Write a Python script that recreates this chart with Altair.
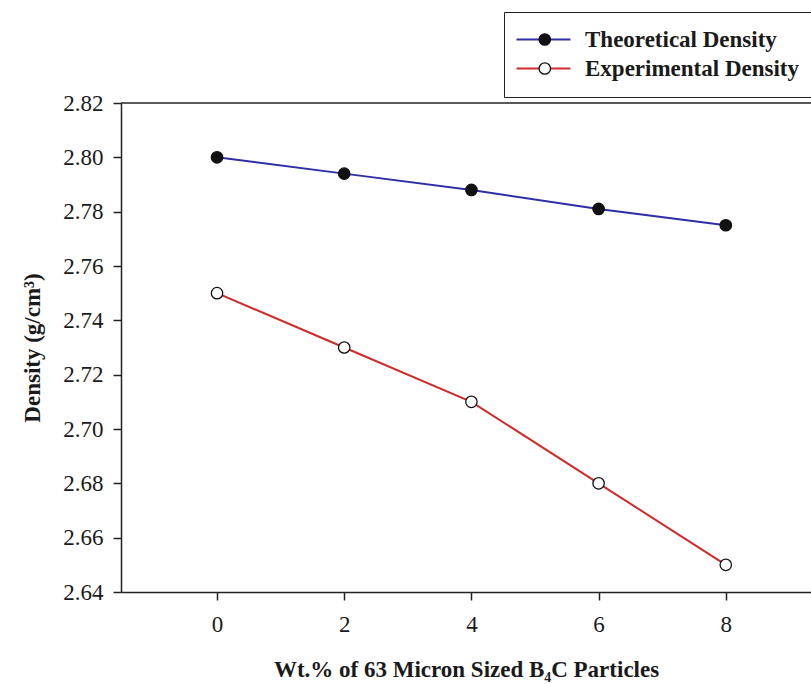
import altair as alt
import pandas as pd

wt = [0, 2, 4, 6, 8]
theoretical = [2.800, 2.794, 2.788, 2.781, 2.775]
experimental = [2.750, 2.730, 2.710, 2.680, 2.650]
series_names = ["Theoretical Density", "Experimental Density"]
y_ticks = [2.64, 2.66, 2.68, 2.70, 2.72, 2.74, 2.76, 2.78, 2.80, 2.82]
x_ticks = [0, 2, 4, 6, 8]

rows = []
for x, v in zip(wt, theoretical):
    rows.append({"wt": x, "density": v, "series": series_names[0]})
for x, v in zip(wt, experimental):
    rows.append({"wt": x, "density": v, "series": series_names[1]})
df = pd.DataFrame(rows)
df["marker"] = df["series"]

FONT = "Liberation Serif"
W, H = 690, 489
LFS = 23  # legend label font size

xs = alt.Scale(domain=[-1.51, 9.34], nice=False, zero=False)
ys = alt.Scale(domain=[2.64, 2.82], nice=False, zero=False)

x_enc = alt.X("wt:Q", scale=xs,
              axis=alt.Axis(values=x_ticks, format="d",
                            title="Wt.% of 63 Micron Sized B\u2084C Particles"))
y_enc = alt.Y("density:Q", scale=ys,
              axis=alt.Axis(values=y_ticks, format=".2f",
                            title="Density (g/cm\u00b3)"))

base = alt.Chart(df)

lines = base.mark_line(strokeWidth=2).encode(
    x=x_enc, y=y_enc,
    stroke=alt.Stroke("series:N",
                      scale=alt.Scale(domain=series_names, range=["#2e2ea6", "#d02a2a"]),
                      legend=alt.Legend(orient="none", legendX=383, legendY=-91,
                                        title=None, symbolType="M-3,0H7.8",
                                        symbolSize=100, symbolStrokeWidth=2,
                                        symbolFillColor="transparent",
                                        labelFont=FONT, labelFontSize=LFS,
                                        labelFontWeight="bold", labelColor="#1a1a1a",
                                        labelOffset=42, rowPadding=5, padding=16,
                                        strokeColor="#222222", fillColor="white",
                                        labelLimit=400)),
)

points = base.mark_point(shape="circle", filled=True, size=130, strokeWidth=1.3,
                         opacity=1).encode(
    x=x_enc, y=y_enc,
    stroke=alt.value("#111111"),
    fill=alt.Fill("marker:N",
                  scale=alt.Scale(domain=series_names, range=["#111111", "white"]),
                  legend=alt.Legend(orient="none", legendX=396.3, legendY=-91,
                                    title=None, symbolType="circle",
                                    symbolSize=130, symbolStrokeColor="#111111",
                                    symbolStrokeWidth=1.3, symbolOpacity=1,
                                    labelFont=FONT, labelFontSize=LFS,
                                    labelFontWeight="bold", labelExpr="''",
                                    labelOffset=15, rowPadding=5, padding=16,
                                    labelLimit=400)),
)

top_rule = alt.Chart(pd.DataFrame({"k": [0]})).mark_rule(
    color="#222222", strokeWidth=1.5
).encode(x=alt.value(0), x2=alt.value(W), y=alt.value(0))

chart = alt.layer(top_rule, lines, points).resolve_scale(
    stroke="independent", fill="independent"
).properties(
    width=W, height=H,
    autosize=alt.AutoSizeParams(type="none"),
    padding={"left": 121, "top": 103, "right": 0, "bottom": 92},
    background="white",
).configure_view(stroke=None).configure_axis(
    grid=False,
    domainColor="#222222", domainWidth=1.5,
    tickColor="#222222", tickWidth=1.5, tickSize=8,
    labelFont=FONT, labelFontSize=23, labelColor="#1a1a1a",
    titleFont=FONT, titleFontSize=23, titleFontWeight="bold", titleColor="#1a1a1a",
).configure_axisY(
    labelPadding=10, titlePadding=18,
).configure_axisX(
    labelPadding=13, titlePadding=22,
)

chart.save("out.html", embed_options={"renderer": "svg", "actions": False})
